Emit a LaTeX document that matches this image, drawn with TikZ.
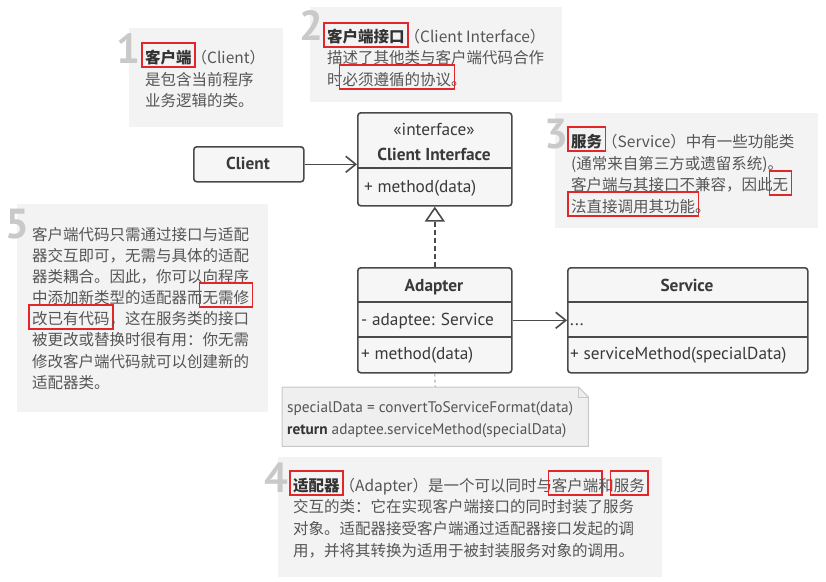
\documentclass[tikz,border=0pt]{standalone}
\usepackage{fontspec}
\setmainfont{PT Sans}
\newfontfamily\cjk{Noto Sans CJK SC}
\usetikzlibrary{arrows.meta}
\definecolor{notebg}{HTML}{F3F3F3}
\definecolor{numgray}{HTML}{C9C9C9}
\definecolor{notetext}{HTML}{555555}
\definecolor{titletext}{HTML}{333333}
\definecolor{hlred}{HTML}{E3262A}
\definecolor{boxline}{HTML}{4A4A4A}
\definecolor{boxfill}{HTML}{F6F6F6}
\definecolor{boxtext}{HTML}{3A3A3A}
\definecolor{codebg}{HTML}{EFEFEF}
\definecolor{codeline}{HTML}{C8C8C8}
\definecolor{linkgray}{HTML}{B0B0B0}
\newsavebox\hlsave
\newcommand\hl[1]{\leavevmode\sbox\hlsave{#1}%
  \smash{\rlap{\kern-4.1pt\raisebox{-3.4pt}{\color{hlred}\setlength\fboxrule{1.6pt}\setlength\fboxsep{0pt}\fbox{\rule{0pt}{22.4pt}\kern\dimexpr\wd\hlsave+5pt\relax}}}}\usebox\hlsave}
\newcommand\ttl{\color{titletext}\bfseries}
\tikzset{
  note/.style={fill=notebg, draw=none, inner sep=0, anchor=north west},
  numlbl/.style={anchor=base west, inner sep=0, text=numgray, font=\fontsize{42}{42}\selectfont\bfseries},
  ntxt/.style={anchor=base west, inner sep=0, text=notetext, font=\cjk\fontsize{15.5}{20}\selectfont},
  umlbox/.style={draw=boxline, fill=boxfill, line width=1.6pt, rounded corners=3pt, inner sep=0, anchor=north west},
  divider/.style={draw=boxline, line width=1.6pt},
  btxt/.style={inner sep=0, text=boxtext, font=\fontsize{17.3}{20}\selectfont},
  bltxt/.style={btxt, anchor=base west},
  bctxt/.style={btxt, anchor=base},
  assoc/.style={draw=boxline, line width=1.6pt, -{Straight Barb[length=10pt,width=16pt]}},
  realize/.style={draw=boxline, line width=1.6pt, dash pattern=on 5pt off 3pt, -{Triangle[open,length=15pt,width=20pt,fill=white]}},
  notelink/.style={draw=linkgray, line width=1.2pt, dash pattern=on 3pt off 3pt},
  ctxt/.style={anchor=base west, inner sep=0, text=notetext, font=\fontsize{15.3}{18}\selectfont},
}
\begin{document}
\begin{tikzpicture}[x=1pt,y=-1pt]
\useasboundingbox (0,0) rectangle (826,581);
% note backgrounds
\node[note, minimum width=154, minimum height=99] (note1) at (129,28) {};
\node[note, minimum width=252, minimum height=95] (note2) at (310,7) {};
\node[note, minimum width=263, minimum height=115] (note3) at (555,113) {};
\node[note, minimum width=251, minimum height=208] (note5) at (17,204) {};
\node[note, minimum width=384, minimum height=120] (note4) at (278,457) {};
% big numbers
\node[numlbl] (num1) at (116,63) {1};
\node[numlbl] (num2) at (299,40) {2};
\node[numlbl] (num3) at (544,148) {3};
\node[numlbl] (num5) at (5,238) {5};
\node[numlbl] (num4) at (264,492) {4};
% note 1
\node[ntxt] (n1a) at (145,63) {\hl{\ttl 客户端}（Client）};
\node[ntxt] (n1b) at (145,85) {是包含当前程序};
\node[ntxt] (n1c) at (145,106.5) {业务逻辑的类。};
% note 2
\node[ntxt] (n2a) at (327,42.5) {\hl{\ttl 客户端接口}（Client Interface）};
\node[ntxt] (n2b) at (327,63.5) {描述了其他类与客户端代码合作};
\node[ntxt] (n2c) at (327,85) {时\hl{必须遵循的协议}。};
% note 3
\node[ntxt] (n3a) at (571,147) {\hl{\ttl 服务}（Service）中有一些功能类};
\node[ntxt] (n3b) at (571,169) {(通常来自第三方或遗留系统)。};
\node[ntxt] (n3c) at (571,190.5) {客户端与其接口不兼容，因此\hl{无}};
\node[ntxt] (n3d) at (571,212) {\hl{法直接调用其功能}。};
% note 5
\node[ntxt] (n5a) at (32,240) {客户端代码只需通过接口与适配};
\node[ntxt] (n5b) at (32,261) {器交互即可，无需与具体的适配};
\node[ntxt] (n5c) at (32,282) {器类耦合。因此，你可以向程序};
\node[ntxt] (n5d) at (32,303) {中添加新类型的适配器而\hl{无需修}};
\node[ntxt] (n5e) at (32,324.5) {\hl{改已有代码}，这在服务类的接口};
\node[ntxt] (n5f) at (32,345.5) {被更改或替换时很有用：你无需};
\node[ntxt] (n5g) at (32,367) {修改客户端代码就可以创建新的};
\node[ntxt] (n5h) at (32,388) {适配器类。};
% note 4
\node[ntxt] (n4a) at (293,491) {\hl{\ttl 适配器}（Adapter）是一个可以同时与\hl{客户端}和\hl{服务}};
\node[ntxt] (n4b) at (293,512.5) {交互的类：它在实现客户端接口的同时封装了服务};
\node[ntxt] (n4c) at (293,534) {对象。适配器接受客户端通过适配器接口发起的调};
\node[ntxt] (n4d) at (293,556) {用，并将其转换为适用于被封装服务对象的调用。};
% UML boxes
\node[umlbox, minimum width=154, minimum height=93] (ci) at (357,112) {};
\draw[divider] (ci.north west) ++(0,56) -- ++(154,0);
\node[bctxt] (ci1) at (434,135.5) {«interface»};
\node[bctxt] (ci2) at (434,160) {\bfseries Client Interface};
\node[bltxt] (ci3) at (364,192.5) {+ method(data)};
\node[umlbox, minimum width=110, minimum height=35] (client) at (193,146) {};
\node[bctxt] (cl1) at (248,169.5) {\bfseries Client};
\node[umlbox, minimum width=154, minimum height=105] (adapter) at (357,267) {};
\draw[divider] (adapter.north west) ++(0,35) -- ++(154,0);
\draw[divider] (adapter.north west) ++(0,70) -- ++(154,0);
\node[bctxt] (ad1) at (434,291.5) {\bfseries Adapter};
\node[bltxt] (ad2) at (361,325.5) {- adaptee: Service};
\node[bltxt] (ad3) at (361,359.5) {+ method(data)};
\node[umlbox, minimum width=240, minimum height=105] (service) at (567,267) {};
\draw[divider] (service.north west) ++(0,35) -- ++(240,0);
\draw[divider] (service.north west) ++(0,70) -- ++(240,0);
\node[bctxt] (sv1) at (687,291.5) {\bfseries Service};
\node[bltxt] (sv2) at (570,325.5) {...};
\node[bltxt] (sv3) at (570,359.5) {+ serviceMethod(specialData)};
% code note
\node[inner sep=0, minimum width=306, minimum height=59, anchor=north west] (code) at (282,387) {};
\filldraw[fill=codebg, draw=codeline, line width=1pt] (code.north west) -- ([xshift=-10pt]code.north east) -- ([yshift=-10pt]code.north east) -- (code.south east) -- (code.south west) -- cycle;
\draw[codeline, line width=1pt] ([xshift=-10pt]code.north east) -- ([xshift=-10pt,yshift=-10pt]code.north east) -- ([yshift=-10pt]code.north east);
\node[ctxt] (code1) at (287,412) {specialData = convertToServiceFormat(data)};
\node[ctxt] (code2) at (287,434) {{\bfseries\color{titletext}return} adaptee.serviceMethod(specialData)};
% connectors
\draw[assoc] (client.east) -- (client.east -| ci.west);
\draw[assoc] (adapter.east) -- (service.west);
\draw[realize] (adapter.north) -- (ci.south);
\draw[notelink] (adapter.south) -- (code.north);
\end{tikzpicture}
\end{document}
